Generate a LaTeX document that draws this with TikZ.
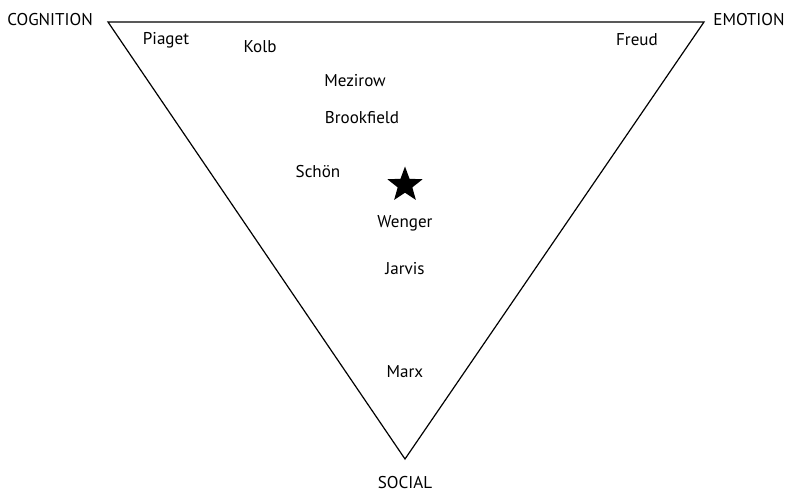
\documentclass[tikz,border=0pt]{standalone}
\usepackage{fontspec}
\setmainfont{PT Sans}
\usetikzlibrary{shapes.geometric}
\begin{document}
\begin{tikzpicture}[x=0.75pt,y=-0.75pt,
  person/.style={font=\fontsize{12.8}{14}\selectfont, inner sep=0pt},
  corner/.style={font=\fontsize{12.8}{14}\selectfont, inner sep=0pt},
  edge/.style={draw=black, line width=0.9pt}]
\useasboundingbox (0,0) rectangle (790,492);
\coordinate (tl) at (108,22);
\coordinate (tr) at (704,22);
\coordinate (bt) at (405,459);
\draw[edge, line join=miter] (tl) -- (tr) -- (bt) -- cycle;
\node[corner] (cog) at (50,20) {COGNITION};
\node[corner] (emo) at (749,20) {EMOTION};
\node[corner] (soc) at (405,482.5) {SOCIAL};
\node[person] (piaget) at (166,40) {Piaget};
\node[person] (kolb) at (260,47) {Kolb};
\node[person] (mezirow) at (355,81) {Mezirow};
\node[person] (brookfield) at (362,118) {Brookfield};
\node[person] (schon) at (318,172) {Schön};
\node[person] (wenger) at (405,223) {Wenger};
\node[person] (jarvis) at (405,269) {Jarvis};
\node[person] (marx) at (405,372) {Marx};
\node[person] (freud) at (637,40) {Freud};
\node[star, star points=5, star point ratio=2.4, fill=black, minimum size=37*0.75pt, inner sep=0pt] (star) at (405,185) {};
\end{tikzpicture}
\end{document}
